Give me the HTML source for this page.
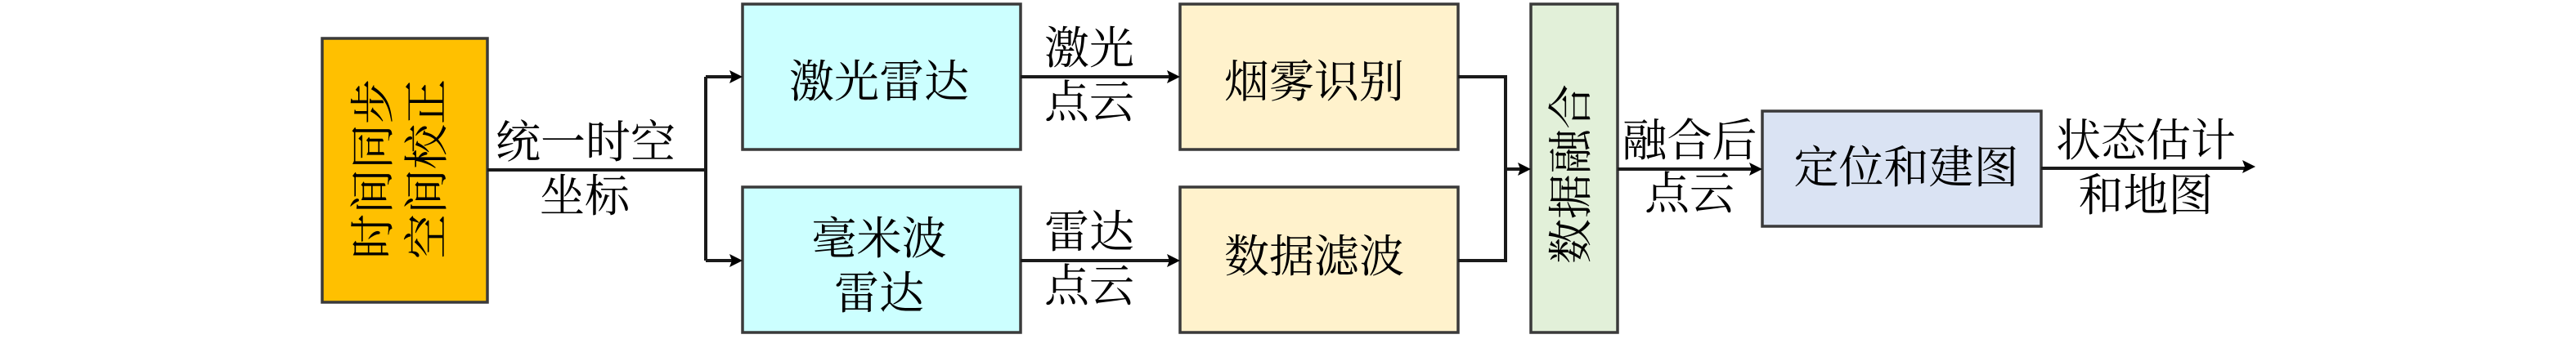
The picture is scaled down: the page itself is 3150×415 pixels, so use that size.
<!DOCTYPE html>
<html lang="zh">
<head>
<meta charset="utf-8">
<style>
html,body{margin:0;padding:0;background:#fff;width:3150px;height:415px;overflow:hidden}
svg{display:block}
text{font-family:"Liberation Serif","Noto Serif CJK SC",serif;font-size:55px;fill:#000;text-anchor:middle}
rect{stroke:#3a3a3a;stroke-width:3.5}
.l{fill:none;stroke:#1a1a1a;stroke-width:4}
.a{fill:#000}
</style>
</head>
<body>
<svg width="3150" height="415" viewBox="0 0 3150 415" xmlns="http://www.w3.org/2000/svg">
<rect x="394" y="47" width="202" height="323" fill="#FFC000"/>
<rect x="908" y="5" width="340" height="178" fill="#CCFFFF"/>
<rect x="908" y="229" width="340" height="178" fill="#CCFFFF"/>
<rect x="1443" y="5" width="340" height="178" fill="#FFF2CC"/>
<rect x="1443" y="229" width="340" height="178" fill="#FFF2CC"/>
<rect x="1872" y="5" width="106" height="402" fill="#E2F0D9"/>
<rect x="2155" y="136" width="341" height="141" fill="#DAE3F3"/>

<path class="l" d="M596 208H863"/>
<path class="l" d="M863 94V319M863 94H898M863 319H898"/>
<path class="l" d="M1248 94H1432M1248 319H1432"/>
<path class="l" d="M1783 94H1841V319H1783M1841 207H1861"/>
<path class="l" d="M1978 207H2145"/>
<path class="l" d="M2496 206H2748"/>

<polygon class="a" points="892,86 908,94 892,102 895,94"/>
<polygon class="a" points="892,311 908,319 892,327 895,319"/>
<polygon class="a" points="1427,86 1443,94 1427,102 1430,94"/>
<polygon class="a" points="1427,311 1443,319 1427,327 1430,319"/>
<polygon class="a" points="1856,199 1872,207 1856,215 1859,207"/>
<polygon class="a" points="2139,199 2155,207 2139,215 2142,207"/>
<polygon class="a" points="2742,196 2758,204 2742,212 2745,204"/>

<text transform="translate(475,207) rotate(-90)">时间同步</text>
<text transform="translate(541,207) rotate(-90)">空间校正</text>
<text transform="translate(1940,213) rotate(-90)">数据融合</text>

<text x="716" y="193">统一时空</text>
<text x="715" y="259">坐标</text>
<text x="1075" y="119">激光雷达</text>
<text x="1075" y="311">毫米波</text>
<text x="1075" y="378">雷达</text>
<text x="1332" y="78">激光</text>
<text x="1332" y="144">点云</text>
<text x="1332" y="303">雷达</text>
<text x="1332" y="369">点云</text>
<text x="1607" y="119">烟雾识别</text>
<text x="1607" y="333">数据滤波</text>
<text x="2066" y="191">融合后</text>
<text x="2066" y="256">点云</text>
<text x="2331" y="224">定位和建图</text>
<text x="2624" y="191">状态估计</text>
<text x="2624" y="258">和地图</text>
</svg>
</body>
</html>
